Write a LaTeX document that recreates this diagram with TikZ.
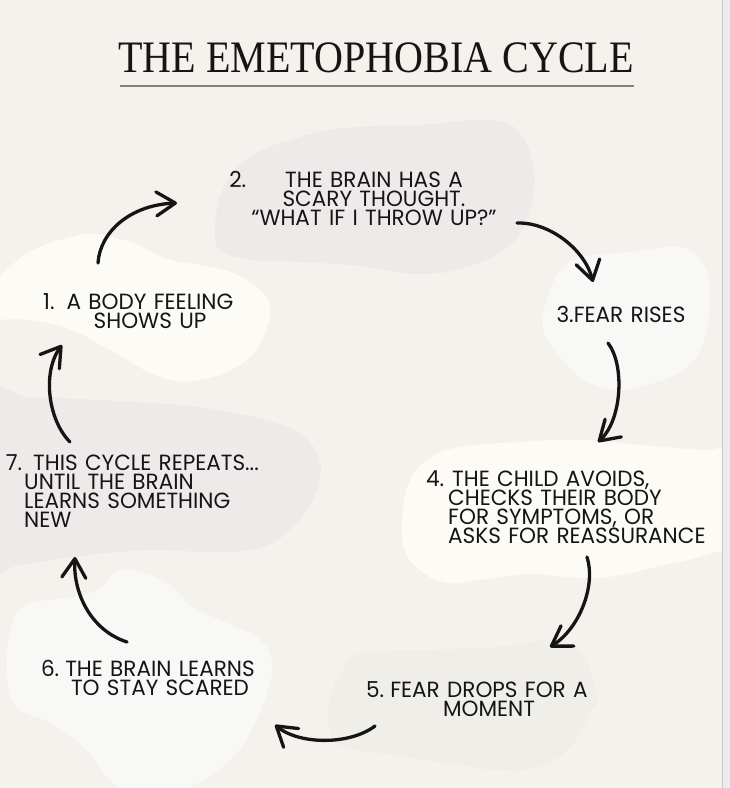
\documentclass[tikz,border=0pt]{standalone}
\usepackage{fontspec}
\usetikzlibrary{arrows.meta}
\newfontfamily\titlefont{Liberation Serif}[FakeStretch=0.89]
\newfontfamily\bodyfont{Poppins}[FakeStretch=0.98]
\definecolor{bg}{HTML}{F5F1EC}
\definecolor{cream}{HTML}{FDFBF5}
\definecolor{greyblob}{HTML}{EEEAE9}
\definecolor{whiteblob}{HTML}{F8F8F7}
\definecolor{paleblob}{HTML}{F0EEE9}
\definecolor{strip}{HTML}{ECEBEE}
\definecolor{ink}{HTML}{151515}
\definecolor{rule}{HTML}{85817F}
\begin{document}
\begin{tikzpicture}[x=1pt,y=-1pt,
  lbl/.style={inner sep=0pt, text=ink, font=\bodyfont\fontsize{22}{19.3}\selectfont},
  cyc/.style={draw=ink, line width=3.3pt, line cap=round,
    -{Straight Barb[length=19pt,width=24pt,round]}}]
\useasboundingbox (0,0) rectangle (730,788);
\clip (0,0) rectangle (730,788);
\fill[bg] (0,0) rectangle (730,788);
% blobs
\fill[greyblob] plot[smooth cycle, tension=0.7] coordinates {
 (215,235) (222,192) (245,160) (290,140) (345,128) (420,125) (480,120)
 (515,128) (533,165) (530,210) (510,245) (470,266) (420,274) (360,266)
 (300,262) (252,260) (224,252)};
\fill[cream] plot[smooth cycle, tension=0.7] coordinates {
 (-20,300) (10,267) (33,250) (67,238) (93,234) (133,243) (167,259) (200,265)
 (233,273) (260,290) (270,310) (263,337) (243,363) (200,380) (160,377)
 (110,350) (67,328) (27,320) (-20,318)};
\fill[whiteblob] plot[smooth cycle, tension=0.7] coordinates {
 (543,327) (550,290) (565,266) (585,256) (630,252) (680,247) (703,263)
 (710,297) (703,343) (683,370) (647,385) (613,390) (580,377) (557,353)};
\fill[greyblob] plot[smooth cycle, tension=0.7] coordinates {
 (-20,398) (30,397) (100,400) (180,405) (230,412) (272,422) (302,435)
 (318,456) (320,478) (310,505) (290,530) (260,548) (210,552) (150,550)
 (80,556) (20,565) (-20,566)};
\fill[cream] plot[smooth cycle, tension=0.7] coordinates {
 (402,520) (410,480) (430,458) (460,447) (520,442) (580,440) (640,445)
 (700,450) (740,455) (745,540) (713,553) (660,566) (597,578) (530,574)
 (480,580) (447,583) (420,570) (405,550)};
\fill[paleblob] plot[smooth cycle, tension=0.7] coordinates {
 (345,667) (363,653) (430,650) (497,647) (547,641) (580,653) (593,680)
 (597,700) (590,713) (570,747) (537,767) (497,770) (447,763) (380,753)
 (340,745) (328,720) (333,690)};
\fill[whiteblob] plot[smooth cycle, tension=0.7] coordinates {
 (7,673) (13,620) (33,603) (67,598) (97,590) (113,574) (133,570)
 (167,583) (193,607) (227,623) (260,640) (272,663) (267,693) (253,727)
 (233,757) (200,782) (167,795) (133,795) (110,780) (83,747) (50,723)
 (17,707)};
\fill[strip] (722,0) rectangle (730,788);
\draw[draw=strip!85!black, line width=0.4pt] (722,0) -- (722,788);
% title
\node[inner sep=0pt, anchor=base, text=ink,
      font=\titlefont\fontsize{45}{50}\selectfont] (title) at (376,72)
      {THE EMETOPHOBIA CYCLE};
\coordinate (ruleL) at (120,86);
\coordinate (ruleR) at (634,86);
\draw[rule, line width=1.4pt] (ruleL) -- (ruleR);
% labels
\node[lbl, anchor=base, text width=320pt, align=center] (s1) at (150,309)
  {\llap{1.\hspace{12pt}}A BODY FEELING\\SHOWS UP};
\node[lbl, anchor=base, text width=320pt, align=center] (s2) at (374,187)
  {\llap{2.\hspace{39pt}}THE BRAIN HAS A\\SCARY THOUGHT.\\“WHAT IF I THROW UP?”};
\node[lbl, anchor=base, text width=200pt, align=center] (s3) at (621,322)
  {3.FEAR RISES};
\node[lbl, anchor=base west, text width=300pt, align=left] (s4) at (448,486)
  {\hspace*{4pt}\llap{4.\hspace{8pt}}THE CHILD AVOIDS,\\CHECKS THEIR BODY\\FOR SYMPTOMS, OR\\ASKS FOR REASSURANCE};
\node[lbl, anchor=base, text width=320pt, align=center] (s5) at (489,697)
  {\llap{5.\hspace{6pt}}FEAR DROPS FOR A\\MOMENT};
\node[lbl, anchor=base, text width=320pt, align=center] (s6) at (160,676)
  {\llap{6.\hspace{6pt}}THE BRAIN LEARNS\\TO STAY SCARED};
\node[lbl, anchor=base west, text width=320pt, align=left] (s7) at (24,470)
  {\hspace*{9pt}\llap{7.\hspace{11pt}}THIS CYCLE REPEATS...\\UNTIL THE BRAIN\\LEARNS SOMETHING\\NEW};
% arrow end points
\coordinate (a1s) at (98,263);  \coordinate (a1e) at (177,203);
\coordinate (a2s) at (517,223); \coordinate (a2e) at (593,282);
\coordinate (a3s) at (608,343); \coordinate (a3e) at (598,442);
\coordinate (a4s) at (587,557); \coordinate (a4e) at (550,647);
\coordinate (a5s) at (375,726); \coordinate (a5e) at (275,725);
\coordinate (a6s) at (127,642); \coordinate (a6e) at (75,557);
\coordinate (a7s) at (70,442);  \coordinate (a7e) at (62,345);
\draw[cyc] (a1s) .. controls (100,232) and (130,205) .. (a1e);
\draw[cyc] (a2s) .. controls (550,222) and (585,250) .. (a2e);
\draw[cyc] (a3s) .. controls (625,365) and (622,420) .. (a3e);
\draw[cyc] (a4s) .. controls (596,585) and (580,628) .. (a4e);
\draw[cyc] (a5s) .. controls (350,745) and (300,745) .. (a5e);
\draw[cyc] (a6s) .. controls (90,630) and (73,592) .. (a6e);
\draw[cyc] (a7s) .. controls (48,420) and (42,372) .. (a7e);
\end{tikzpicture}
\end{document}
